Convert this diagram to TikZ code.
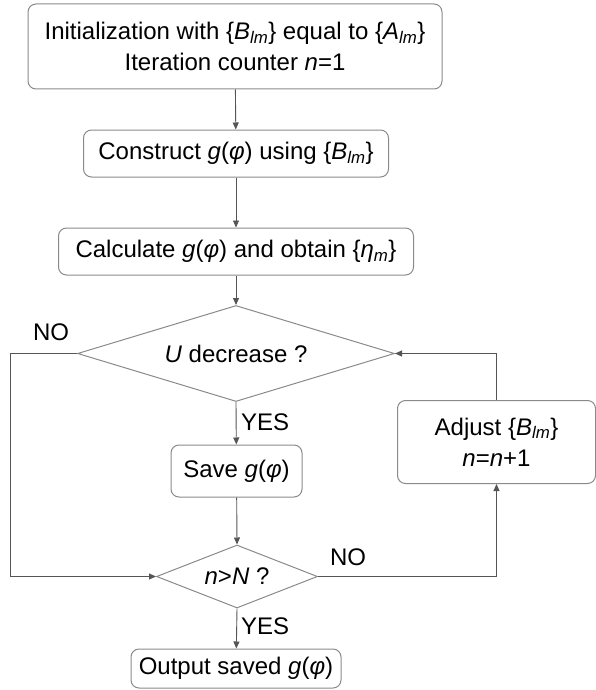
\documentclass[tikz,border=0pt]{standalone}
\usepackage{fontspec}
\setmainfont{Liberation Sans}
\usetikzlibrary{arrows.meta,shapes.geometric}
\definecolor{boxline}{HTML}{8A8A8A}
\definecolor{flowline}{HTML}{555555}

\begin{document}
\begin{tikzpicture}[
    x=1pt,y=1pt,
    every node/.style={font=\fontsize{24}{31}\selectfont,text=black},
    stepbox/.style={rectangle,rounded corners=8pt,draw=boxline,line width=1pt,align=center,inner sep=0pt},
    test/.style={diamond,draw=boxline,line width=1pt,inner sep=0pt},
    flow/.style={-{Triangle[length=7pt,width=6pt]},line width=0.9pt,flowline},
    tag/.style={inner sep=0pt}
]
\useasboundingbox (0,0) rectangle (595,-690);
\node[stepbox,minimum width=414pt,minimum height=85pt] (init) at (235,-46.5)
    {Initialization with \{\textit{B}\textsubscript{\textit{lm}}\} equal to \{\textit{A}\textsubscript{\textit{lm}}\}\\Iteration counter \textit{n}=1};
\node[stepbox,minimum width=305pt,minimum height=47pt] (build) at (236,-153.5)
    {Construct \textit{g}(\textit{φ}) using \{\textit{B}\textsubscript{\textit{lm}}\}};
\node[stepbox,minimum width=355pt,minimum height=47pt] (calc) at (236,-251.5)
    {Calculate \textit{g}(\textit{φ}) and obtain \{\textit{η}\textsubscript{\textit{m}}\}};
\node[test,aspect=3.3,minimum width=317pt,minimum height=96pt] (udec) at (236,-353.5)
    {\textit{U} decrease ?};
\node[stepbox,minimum width=131pt,minimum height=52pt] (save) at (236.5,-471)
    {Save \textit{g}(\textit{φ})};
\node[test,aspect=2.56,minimum width=161pt,minimum height=63pt] (ncheck) at (237,-576.5)
    {\textit{n}>\textit{N} ?};
\node[stepbox,minimum width=210pt,minimum height=39pt] (out) at (236,-668.5)
    {Output saved \textit{g}(\textit{φ})};
\node[stepbox,minimum width=198pt,minimum height=83pt] (adjust) at (496.5,-442)
    {Adjust \{\textit{B}\textsubscript{\textit{lm}}\}\\\textit{n}=\textit{n}+1};
\coordinate (back) at (10,-353.5);
\draw[flow] (init) -- (build);
\draw[flow] (build) -- (calc);
\draw[flow] (calc) -- (udec.north);
\draw[flow] (udec.south) -- (save);
\draw[flow] (save) -- (ncheck.north);
\draw[flow] (ncheck.south) -- (out);
\draw[flow] (udec.west) -- (back) |- (ncheck.west);
\draw[flow] (ncheck.east) -| (adjust.south);
\draw[flow] (adjust.north) |- (udec.east);
\node[tag] (no1) at (51,-332) {NO};
\node[tag,anchor=west] (yes1) at (241,-422) {YES};
\node[tag] (no2) at (348,-557) {NO};
\node[tag,anchor=west] (yes2) at (241,-626) {YES};
\end{tikzpicture}
\end{document}
